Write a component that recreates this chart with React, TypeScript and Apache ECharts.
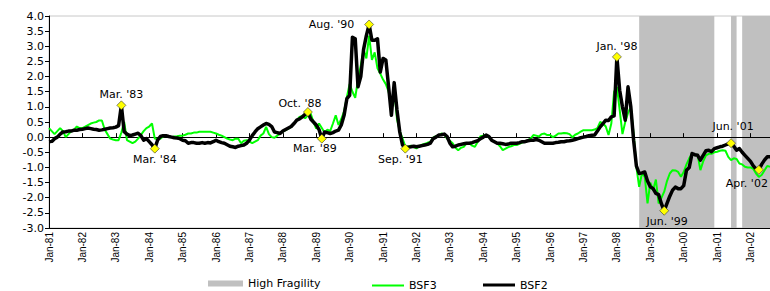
import React, { useEffect, useRef } from "react";
import * as echarts from "echarts";

const monthNames = ["Jan", "Feb", "Mar", "Apr", "May", "Jun", "Jul", "Aug", "Sep", "Oct", "Nov", "Dec"];
const categories: string[] = [];
for (let y = 1981; y <= 2002; y++) {
  for (let m = 0; m < 12; m++) {
    if (y === 2002 && m > 7) break;
    categories.push(`${monthNames[m]}-${String(y % 100).padStart(2, "0")}`);
  }
}

// BSF2 (black), monthly Jan-81 .. Aug-02
const bsf2: number[] = [
  -0.15, -0.14, -0.05, 0.0, 0.1, 0.17, 0.18, 0.2, 0.2, 0.23, 0.23, 0.25,
  0.26, 0.28, 0.3, 0.28, 0.26, 0.25, 0.23, 0.24, 0.26, 0.28, 0.3, 0.31,
  0.33, 0.38, 1.05, 0.18, 0.1, 0.05, 0.07, 0.1, 0.13, 0.05, -0.1, -0.05,
  -0.15, -0.25, -0.38, -0.1, 0.02, 0.05, 0.05, 0.02, 0.0, -0.02, -0.03, -0.05,
  -0.1, -0.12, -0.2, -0.18, -0.18, -0.2, -0.2, -0.18, -0.2, -0.18, -0.19, -0.15,
  -0.1, -0.15, -0.18, -0.2, -0.25, -0.3, -0.32, -0.34, -0.3, -0.28, -0.26, -0.2,
  -0.1, 0.05, 0.17, 0.28, 0.34, 0.4, 0.45, 0.42, 0.35, 0.17, 0.15, 0.12,
  0.2, 0.25, 0.3, 0.35, 0.45, 0.56, 0.6, 0.67, 0.75, 0.83, 0.6, 0.5,
  0.4, 0.25, -0.05, 0.17, 0.15, 0.12, 0.15, 0.2, 0.23, 0.4, 0.72, 1.27,
  1.38, 3.3, 3.25, 1.66, 2.0, 2.9, 3.35, 3.72, 3.2, 3.2, 3.25, 2.15,
  2.6, 2.55, 1.66, 0.72, 1.8, 0.9, 0.17, -0.26, -0.38, -0.33, -0.32, -0.3,
  -0.32, -0.3, -0.28, -0.26, -0.24, -0.2, -0.05, 0.0, 0.07, 0.08, 0.1, 0.02,
  -0.2, -0.32, -0.3, -0.26, -0.24, -0.22, -0.2, -0.2, -0.18, -0.15, -0.12, -0.05,
  0.0, 0.07, 0.02, -0.1, -0.15, -0.2, -0.2, -0.22, -0.24, -0.23, -0.2, -0.2,
  -0.2, -0.18, -0.15, -0.15, -0.12, -0.1, -0.1, -0.08, -0.1, -0.15, -0.2, -0.2,
  -0.2, -0.2, -0.18, -0.17, -0.15, -0.15, -0.13, -0.12, -0.1, -0.08, -0.05, -0.02,
  0.0, 0.02, 0.05, 0.06, 0.07, 0.2, 0.34, 0.45, 0.56, 0.55, 0.67, 0.7,
  2.65, 1.55, 1.0, 0.56, 1.66, 1.0, -0.1, -0.95, -1.2, -1.18, -1.15, -1.45,
  -1.64, -1.7, -1.86, -1.9, -2.2, -2.43, -2.19, -1.95, -1.75, -1.65, -1.7, -1.7,
  -1.6, -1.09, -1.0, -0.54, -0.58, -0.6, -0.76, -0.6, -0.45, -0.43, -0.48, -0.38,
  -0.35, -0.32, -0.3, -0.26, -0.22, -0.2, -0.3, -0.43, -0.38, -0.5, -0.6, -0.7,
  -0.8, -0.95, -1.05, -1.08, -0.9, -0.76, -0.65, -0.65,
];

// BSF3 (green), monthly Jan-81 .. Aug-02
const bsf3: number[] = [
  0.3, 0.2, 0.1, 0.2, 0.3, 0.2, 0.0, 0.1, 0.2, 0.25, 0.35, 0.3,
  0.3, 0.35, 0.4, 0.45, 0.48, 0.5, 0.55, 0.55, 0.25, 0.1, -0.05, -0.08,
  -0.1, -0.1, 0.15, 0.5, -0.1, -0.15, -0.2, -0.15, -0.05, 0.07, 0.2, 0.3,
  0.35, 0.45, -0.05, -0.05, -0.05, 0.02, 0.05, 0.03, 0.0, 0.02, 0.03, 0.05,
  0.05, 0.08, 0.12, 0.12, 0.15, 0.15, 0.18, 0.18, 0.18, 0.18, 0.18, 0.15,
  0.12, 0.08, 0.05, 0.0, -0.05, -0.08, -0.1, -0.05, -0.05, -0.2, -0.12, -0.1,
  -0.15, -0.2, -0.15, -0.1, 0.05, 0.12, 0.34, 0.1, 0.0, -0.02, 0.05, 0.12,
  0.18, 0.23, 0.28, 0.34, 0.45, 0.55, 0.67, 0.7, 0.62, 0.72, 0.78, 0.5,
  0.28, 0.45, 0.3, 0.15, 0.25, 0.2, 0.45, 0.72, 0.4, 0.6, 0.85, 1.32,
  1.76, 1.5, 1.3, 1.9, 2.37, 2.9, 2.6, 3.35, 2.55, 2.8, 2.27, 2.1,
  1.9, 1.75, 1.5, 1.0, 1.6, 0.6, 0.2, -0.05, -0.3, -0.32, -0.28, -0.33,
  -0.37, -0.3, -0.25, -0.22, -0.18, -0.15, -0.02, 0.03, 0.05, 0.12, 0.08, -0.05,
  -0.12, -0.2, -0.35, -0.43, -0.35, -0.32, -0.2, -0.2, -0.28, -0.32, -0.15, 0.03,
  0.05, 0.07, 0.0, -0.1, -0.15, -0.2, -0.3, -0.43, -0.38, -0.33, -0.3, -0.26,
  -0.26, -0.22, -0.18, -0.15, -0.1, -0.05, 0.07, 0.05, 0.02, 0.1, 0.12, 0.07,
  0.07, 0.0, 0.05, 0.12, 0.12, 0.14, 0.13, 0.1, 0.0, 0.08, 0.12, 0.18,
  0.23, 0.23, 0.23, 0.23, 0.25, 0.3, 0.5, 0.45, 0.35, 0.07, 0.45, 1.5,
  1.66, 0.9, 0.1, 0.5, 0.8, 1.0, 0.12, -0.98, -1.64, -1.2, -1.3, -2.19,
  -1.5, -1.75, -1.4, -2.19, -2.0, -1.8, -1.45, -1.2, -1.09, -1.1, -1.15, -1.31,
  -1.15, -0.9, -0.7, -0.54, -0.6, -0.58, -1.09, -0.8, -0.6, -0.55, -0.55, -0.5,
  -0.48, -0.45, -0.43, -0.45, -0.65, -0.76, -0.7, -0.72, -0.87, -0.9, -0.98, -1.0,
  -1.0, -1.05, -1.2, -1.31, -1.25, -1.1, -0.95, -0.98,
];

// High fragility periods (start month, end month)
const highFragility: [string, string][] = [
  ["Sep-98", "Dec-00"],
  ["Jun-01", "Aug-01"],
  ["Oct-01", "Aug-02"],
];

// Annotated turning points on BSF2
const annotationTexts = ["Mar. '83", "Mar. '84", "Oct. '88", "Mar. '89", "Aug. '90", "Sep. '91", "Jan. '98", "Jun. '99", "Jun. '01", "Apr. '02"];
const annotationMonths = ["Mar-83", "Mar-84", "Oct-88", "Mar-89", "Aug-90", "Sep-91", "Jan-98", "Jun-99", "Jun-01", "Apr-02"];

const labelPlacement: Record<string, { position: string; distance: number; offset: [number, number] }> = {
  "Mar-83": { position: "top", distance: 1, offset: [0, 0] },
  "Mar-84": { position: "bottom", distance: 1, offset: [0, 0] },
  "Oct-88": { position: "top", distance: 0, offset: [-8, 2] },
  "Mar-89": { position: "bottom", distance: 0, offset: [-7, 0] },
  "Aug-90": { position: "left", distance: 10, offset: [0, 0] },
  "Sep-91": { position: "bottom", distance: 1, offset: [-5, 0] },
  "Jan-98": { position: "top", distance: 0, offset: [0, 0] },
  "Jun-99": { position: "bottom", distance: 0, offset: [3, 0] },
  "Jun-01": { position: "top", distance: 6, offset: [2, 0] },
  "Apr-02": { position: "bottom", distance: 3, offset: [-12, 0] },
};

const FONT = "DejaVu Sans";

export default function App() {
  const ref = useRef<HTMLDivElement>(null);
  useEffect(() => {
    document.body.style.margin = "0";
    if (!ref.current) return;
    const chart = echarts.init(ref.current, undefined, { renderer: "svg" });
    const isJan = (i: number) => i % 12 === 0;
    const legendText = { fontFamily: FONT, fontSize: 11, color: "#000" };
    const option: any = {
      animation: false,
      grid: { left: 49, right: 0, top: 16, bottom: 63, show: true, borderColor: "#c8c8c8", borderWidth: 1 },
      legend: [
        {
          data: [{ name: "High Fragility", icon: "rect" }], left: 208, top: 278, padding: 0, itemWidth: 35, itemHeight: 6,
          textStyle: legendText, selectedMode: false,
        },
        {
          data: [{ name: "BSF3", icon: "rect" }], left: 372, top: 280, padding: 0, itemWidth: 32, itemHeight: 2,
          textStyle: legendText, selectedMode: false,
        },
        {
          data: [{ name: "BSF2", icon: "rect" }], left: 483, top: 279.5, padding: 0, itemWidth: 32, itemHeight: 3,
          textStyle: legendText, selectedMode: false,
        },
      ],
      xAxis: [
        {
          type: "category", data: categories, boundaryGap: false,
          axisLine: { onZero: false, lineStyle: { color: "#000", width: 1 } },
          axisTick: { show: false },
          axisLabel: { interval: (i: number) => isJan(i), rotate: 90, fontSize: 10, fontFamily: "Liberation Sans", color: "#000", margin: 4 },
          splitLine: { show: false },
        },
        {
          type: "category", data: categories, boundaryGap: false, position: "top", z: 2,
          axisLine: { onZero: true, onZeroAxisIndex: 0, lineStyle: { color: "#000", width: 1 } },
          axisTick: { show: true, interval: (i: number) => isJan(i), length: 4, lineStyle: { color: "#000" } },
          axisLabel: { show: false },
          splitLine: { show: false },
        },
      ],
      yAxis: {
        type: "value", min: -3, max: 4, interval: 0.5,
        axisLine: { show: true, lineStyle: { color: "#000" } },
        axisTick: { show: true, length: 4, lineStyle: { color: "#000" } },
        splitLine: { show: false },
        axisLabel: { formatter: (v: number) => v.toFixed(1), fontSize: 11, fontFamily: FONT, color: "#000", margin: 5 },
      },
      series: [
        {
          name: "High Fragility", type: "bar", data: [], color: "#c0c0c0", xAxisIndex: 0,
        },
        {
          name: "BSF3", type: "line", data: bsf3, color: "#00ff00", symbol: "none", z: 3,
          lineStyle: { width: 2, color: "#00ff00" },
          markArea: {
            silent: true,
            z: 1,
            itemStyle: { color: "#c0c0c0" },
            data: highFragility.map(([a, b]) => [{ xAxis: a }, { xAxis: b }]),
          },
        },
        {
          name: "BSF2", type: "line", data: bsf2, color: "#000000", symbol: "none", z: 4,
          lineStyle: { width: 3.5, color: "#000000", join: "round" },
          markPoint: {
            symbol: "diamond", symbolSize: [9, 9], z: 10, silent: true,
            itemStyle: { color: "#ffff00", borderColor: "#333", borderWidth: 0.6 },
            data: annotationMonths.map((m, k) => {
              const p = labelPlacement[m];
              return {
                coord: [m, bsf2[categories.indexOf(m)]],
                label: {
                  show: true, formatter: annotationTexts[k], position: p.position, distance: p.distance, offset: p.offset,
                  fontFamily: FONT, fontSize: 11, color: "#000",
                },
              };
            }),
          },
        },
      ],
    };
    chart.setOption(option);
    return () => chart.dispose();
  }, []);
  return <div ref={ref} style={{ width: 770, height: 291 }} />;
}
